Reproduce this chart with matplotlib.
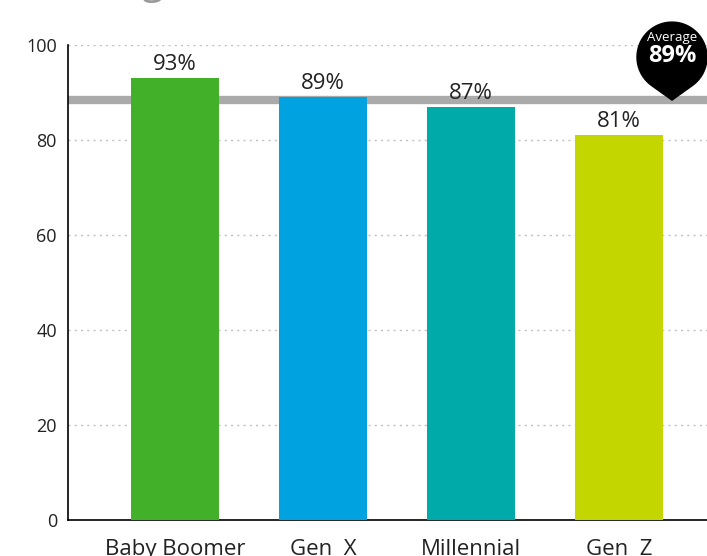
import numpy as np
import matplotlib
matplotlib.use("Agg")
from matplotlib import pyplot as plt
from matplotlib import transforms as mtransforms
from matplotlib.patches import Polygon

plt.rcParams['font.family'] = ['Open Sans', 'DejaVu Sans']

categories = ["Baby Boomer", "Gen  X", "Millennial", "Gen  Z"]
values = [93, 89, 87, 81]
colors = ["#43b02a", "#00a3e0", "#00aaa8", "#c4d600"]
avg_value = 89
avg_line = 88.4
yticks = [0, 20, 40, 60, 80, 100]
title = "(% rating)"

fig = plt.figure(figsize=(7.07, 5.56), dpi=100)
ax = fig.add_axes([68/707, 36/556, 639/707, 475/556])

x = np.arange(len(categories))
ax.bar(x, values, width=0.595, color=colors, zorder=3)
for xi, v in zip(x, values):
    ax.text(xi, v + 0.6, f"{v}%", ha="center", va="bottom", fontsize=16, color="#222222", zorder=4)

ax.axhline(avg_line, color="#aaaaaa", lw=6, zorder=2)

ax.set_xlim(-0.723, 3.595)
ax.set_ylim(0, 100)
ax.set_yticks(yticks)
ax.set_yticklabels([str(t) for t in yticks], fontsize=13, color="#222222")
ax.set_xticks(x)
ax.set_xticklabels(categories, fontsize=16, color="#222222")
ax.tick_params(axis="y", length=0, pad=8)
ax.tick_params(axis="x", length=0, pad=13.8)
for t in yticks[1:]:
    ax.axhline(t, color="#c0c0c0", lw=1, ls=(0, (1.5, 3)), zorder=1)

for s in ["top", "right"]:
    ax.spines[s].set_visible(False)
ax.spines["left"].set_linewidth(1.2)
ax.spines["bottom"].set_linewidth(1.2)

# average pin marker, shape in pixels relative to its tip
r, d = 35, 43
th = np.degrees(np.arccos(r / d))
ang = np.radians(np.linspace(-90 + th, 270 - th, 80))
pts = np.column_stack([r * np.cos(ang), d + r * np.sin(ang)])
pts = np.vstack([[0, 0], pts])
tip = mtransforms.blended_transform_factory(ax.transAxes, ax.transData)
tr = mtransforms.Affine2D().scale(fig.dpi / 100) + mtransforms.ScaledTranslation((672 - 68) / 639, avg_line, tip)
ax.add_patch(Polygon(pts, closed=True, transform=tr, color="black", zorder=5, clip_on=False))
ax.text(0, d + 20, "Average", transform=tr, ha="center", va="center", color="white", fontsize=9.5, zorder=6)
ax.text(0, d + 1, f"{avg_value}%", transform=tr, ha="center", va="center", color="white", fontsize=17, fontweight="bold", zorder=6)

# title sits above the figure, only its descenders show
fig.text(-0.003, 1.0 + 7/556, title, ha="left", va="baseline", fontsize=29, color="#999999")

fig.savefig("out.png", dpi=100)
